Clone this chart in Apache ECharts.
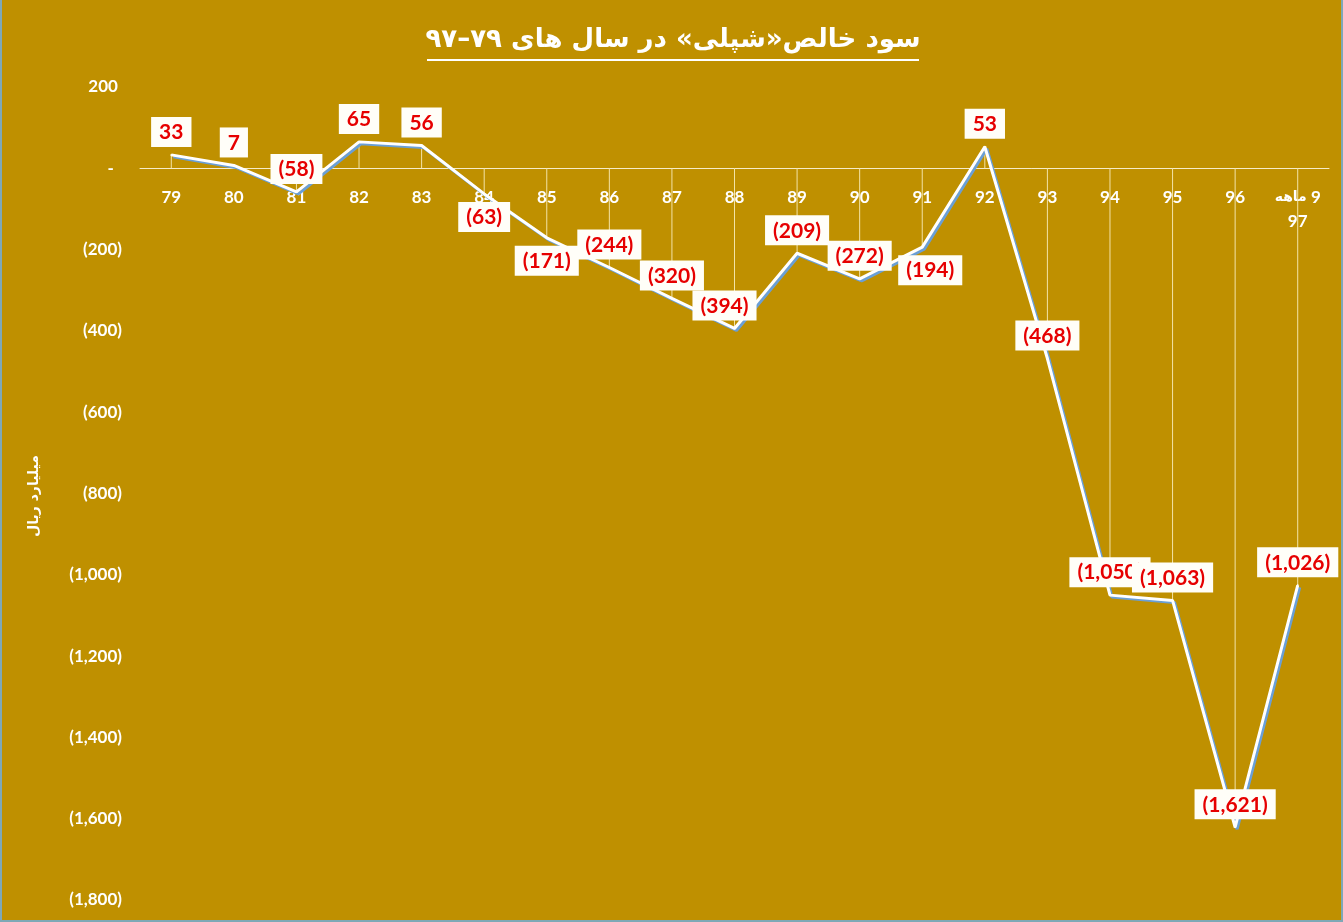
<!DOCTYPE html>
<html>
<head>
<meta charset="utf-8">
<title>سود خالص شپلی</title>
<script src="https://cdn.jsdelivr.net/npm/echarts@6/dist/echarts.min.js"></script>
<style>
  html, body { margin: 0; padding: 0; background: #BF9000; }
  #chart {
    width: 1343px; height: 922px; box-sizing: border-box;
    border-left: 2px solid #7ea8b6; border-right: 2px solid #7ea8b6; border-bottom: 2px solid #7ea8b6;
  }
</style>
</head>
<body>
<div id="chart"></div>
<script>
// categories (years) and net profit, billion rials
var years = ['79', '80', '81', '82', '83', '84', '85', '86', '87', '88', '89', '90', '91', '92', '93', '94', '95', '96', '9 ماهه\n97']
var profit = [33, 7, -58, 65, 56, -63, -171, -244, -320, -394, -209, -272, -194, 53, -468, -1050, -1063, -1621, -1026]
// labels placed under the point instead of above
var labelsBelow = ['84', '85', '91']
var labelShiftX = { '88': -10, '91': 8 }
var yTicks = { min: -1800, max: 200, step: 200 }

var titleText = 'سود خالص«شپلی» در سال های ۷۹–۹۷'
var unitText = 'میلیارد ریال'

function fmt(v) {
  var s = Math.abs(v).toString().replace(/\B(?=(\d{3})+(?!\d))/g, ',')
  if (v === 0) return '-  '
  return v < 0 ? '(' + s + ')' : s + ' '
}

// "9 ماهه" has to show the word on the left and the number on the right,
// so the pieces go out as separate rich-text runs
function catLabel(v) {
  var lines = v.split('\n')
  if (lines.length < 2) return v
  var first = lines[0].split(' ')
  return '{w|' + first[1] + '} ' + first[0] + '\n' + lines[1]
}

var labelFont = 'Lato, "Open Sans", sans-serif'

var gridTop = 87, gridBottom = 20, chartH = 920
// put the category axis on the zero line (whole axis, labels included)
var plotH = chartH - gridTop - gridBottom
var zeroOffset = -plotH * (0 - yTicks.min) / (yTicks.max - yTicks.min)

var lineData = profit.map(function (v, i) {
  var key = years[i].split('\n').pop()
  var item = { value: v }
  var lab = {}
  if (labelsBelow.indexOf(key) >= 0) lab.position = 'bottom'
  if (labelShiftX[key]) lab.offset = [labelShiftX[key], 0]
  if (lab.position || lab.offset) item.label = lab
  return item
})

var chart = echarts.init(document.getElementById('chart'))
chart.setOption({
  backgroundColor: '#BF9000',
  animation: false,
  grid: { left: 138, right: 12, top: gridTop, bottom: gridBottom, containLabel: false, outerBoundsMode: 'none' },
  graphic: [
    {
      type: 'text', x: 671, y: 40,
      style: { text: titleText, fill: '#fff', font: 'bold 26px "DejaVu Sans"', align: 'center', verticalAlign: 'middle' }
    },
    {
      type: 'line', shape: { x1: 425, y1: 60, x2: 917, y2: 60 },
      style: { stroke: '#fff', lineWidth: 2 }
    },
    {
      type: 'text', x: 32, y: 496, rotation: Math.PI / 2,
      style: { text: unitText, fill: '#fff', font: 'bold 14px "DejaVu Sans"', align: 'center', verticalAlign: 'middle' }
    }
  ],
  xAxis: {
    type: 'category',
    data: years,
    boundaryGap: true,
    offset: zeroOffset,
    axisLine: { onZero: false, lineStyle: { color: '#f6ecc8', width: 1 } },
    axisTick: { show: false },
    axisLabel: {
      color: '#fff', fontSize: 17, fontWeight: 'bold', fontFamily: labelFont, margin: 17, lineHeight: 24, interval: 0,
      formatter: catLabel,
      rich: { w: { color: '#fff', fontSize: 14, fontWeight: 'bold', fontFamily: '"DejaVu Sans"', lineHeight: 24 } }
    }
  },
  yAxis: {
    type: 'value',
    min: yTicks.min, max: yTicks.max, interval: yTicks.step,
    axisLine: { show: false },
    axisTick: { show: false },
    splitLine: { show: false },
    axisLabel: { color: '#fff', fontSize: 17, fontWeight: 'bold', fontFamily: labelFont, margin: 18, formatter: fmt }
  },
  series: [
    {
      // drop lines from each point to the axis
      type: 'bar',
      data: profit,
      barWidth: 1,
      z: 1,
      itemStyle: { color: '#f3e3a6' },
      silent: true
    },
    {
      type: 'line',
      data: lineData,
      z: 3,
      symbol: 'circle',
      symbolSize: 2,
      showAllSymbol: true,
      itemStyle: { color: '#fff' },
      lineStyle: { color: '#fff', width: 3, shadowColor: '#6a9fd6', shadowOffsetX: 2, shadowOffsetY: 2, shadowBlur: 0 },
      label: {
        show: true,
        position: 'top',
        distance: 7,
        formatter: function (p) { return fmt(p.value).trim() },
        color: '#e60000',
        fontSize: 21,
        fontWeight: 'bold',
        fontFamily: labelFont,
        backgroundColor: '#fffef8',
        padding: [5, 8, 4, 8]
      }
    }
  ]
})
</script>
</body>
</html>
